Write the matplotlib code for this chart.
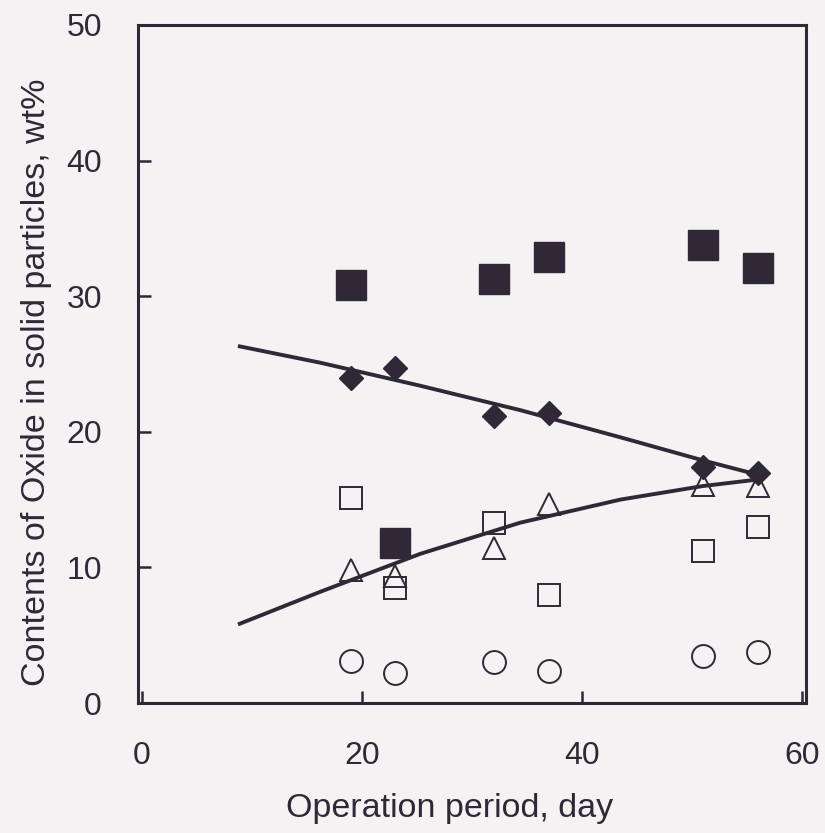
import matplotlib
matplotlib.use('Agg')
import matplotlib.pyplot as plt

# Oxide contents in solid particles vs operation period
days = [19, 23, 32, 37, 51, 56]
filled_square = [30.8, 11.8, 31.3, 32.9, 33.8, 32.1]
diamond = [24.0, 24.7, 21.2, 21.4, 17.4, 17.0]
open_square = [15.1, 8.5, 13.3, 8.0, 11.2, 13.0]
triangle = [9.8, 9.4, 11.4, 14.7, 16.1, 16.0]
circle = [3.1, 2.2, 3.0, 2.4, 3.5, 3.8]

# trend curves
trend_x = [8.9, 16.2, 25.3, 34.4, 43.5, 51.0, 56.2]
trend_down = [26.3, 25.1, 23.4, 21.6, 19.6, 17.9, 16.8]
trend_up = [5.85, 8.2, 11.0, 13.3, 15.0, 16.0, 16.5]

ink = '#2f2836'
bg = '#f5f2f4'

plt.rcParams['font.family'] = ['Liberation Sans', 'DejaVu Sans']

fig = plt.figure(figsize=(8.25, 8.33), dpi=100, facecolor=bg)
ax = fig.add_axes([0.1673, 0.156, 0.8097, 0.814], facecolor=bg)

ax.plot(trend_x, trend_down, '-', color=ink, lw=2.8, zorder=2)
ax.plot(trend_x, trend_up, '-', color=ink, lw=2.8, zorder=2)

ax.plot(days, filled_square, 's', ms=21, color=ink, mec=ink, zorder=3)
ax.plot(days, diamond, 'D', ms=12.5, color=ink, mec=ink, zorder=4)
ax.plot(days, open_square, 's', ms=16.5, mfc='none', mec=ink, mew=1.4, zorder=3)
ax.plot(days, triangle, '^', ms=16, mfc='none', mec=ink, mew=1.4, zorder=3)
ax.plot(days, circle, 'o', ms=16.5, mfc='none', mec=ink, mew=1.4, zorder=3)

ax.set_xlim(-0.36, 60.4)
ax.set_ylim(0, 50)
ax.set_xticks([0, 20, 40, 60])
ax.set_yticks([0, 10, 20, 30, 40, 50])

for s in ax.spines.values():
    s.set_color(ink)
    s.set_linewidth(2.2)

ax.tick_params(axis='both', direction='in', length=9, width=1.8, color=ink,
               labelsize=23, labelcolor=ink)
ax.tick_params(axis='y', pad=26)
ax.tick_params(axis='x', pad=27)

ax.set_xlabel('Operation period, day', fontsize=24.5, color=ink, labelpad=16)
ax.set_ylabel('Contents of Oxide in solid particles, wt%', fontsize=24.5,
              color=ink, labelpad=10)
ax.xaxis.label.set_x(0.467)
ax.yaxis.label.set_y(0.473)

fig.savefig('out.png', dpi=100, facecolor=bg)
